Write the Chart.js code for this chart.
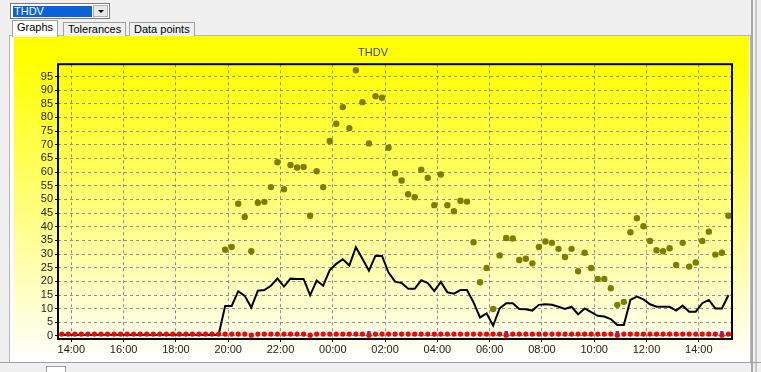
<!DOCTYPE html>
<html>
<head>
<meta charset="utf-8">
<script src="https://cdn.jsdelivr.net/npm/chart.js@4/dist/chart.umd.min.js"></script>
<style>
    body {
        margin: 0;
        width: 761px;
        height: 372px;
        overflow: hidden;
        background: #f0f0f0;
        font-family: "Liberation Sans", Arial, sans-serif;
        font-size: 11px;
        position: relative;
    }
    .combo {
        position: absolute;
        left: 10px;
        top: 3px;
        width: 98px;
        height: 14px;
        border: 1px solid #7a7a7a;
        background: #fff;
    }
    .combo .sel {
        position: absolute;
        left: 2px;
        top: 2px;
        width: 78px;
        height: 11px;
        background: #0a64d8;
        color: #fff;
        line-height: 11px;
        padding-left: 1px;
    }
    .combo .arrow {
        position: absolute;
        right: 1px;
        top: 1px;
        width: 15px;
        height: 12px;
        background: #e8e8e8;
        border: 1px solid #b0b0b0;
        box-sizing: border-box;
    }
    .combo .arrow:after {
        content: "";
        position: absolute;
        left: 4px;
        top: 4px;
        border-left: 3px solid transparent;
        border-right: 3px solid transparent;
        border-top: 3px solid #000;
    }
    .tab {
        position: absolute;
        top: 22px;
        height: 13px;
        padding: 0 4px;
        border: 1px solid #a0a0a0;
        border-bottom: none;
        background: #f0f0f0;
        line-height: 13px;
        color: #000;
    }
    .tab.ativa {
        top: 20px;
        height: 16px;
        background: #fff;
        z-index: 2;
    }
    .frame {
        position: absolute;
        left: 9px;
        top: 35px;
        width: 740px;
        height: 326px;
        border: 1px solid #b8b8b8;
        background: #fff;
    }
    .painel {
        position: absolute;
        left: 14px;
        top: 36px;
        width: 735px;
        height: 318px;
        background: linear-gradient(to bottom, #ffff00 0%, #ffff00 8%, #fffff8 100%);
    }
    .lateral {
        position: absolute;
        left: 751px;
        top: 0;
        width: 6px;
        height: 372px;
        border-left: 2px solid #a8a8a8;
        border-right: 2px solid #c8c8c8;
        box-sizing: border-box;
    }
    .rodape {
        position: absolute;
        left: 0;
        top: 362px;
        width: 761px;
        height: 10px;
        border-top: 1px solid #a0a0a0;
    }
    .rodape .caixa {
        position: absolute;
        left: 46px;
        top: 3px;
        width: 18px;
        height: 7px;
        border: 1px solid #a0a0a0;
        background: #fff;
    }
    canvas {
        position: absolute;
        left: 14px;
        top: 36px;
    }
</style>
</head>
<body>
<div class="frame"></div>
<div class="combo"><div class="sel">THDV</div><div class="arrow"></div></div>
<div class="tab ativa" style="left: 12px;">Graphs</div>
<div class="tab" style="left: 63px;">Tolerances</div>
<div class="tab" style="left: 129px;">Data points</div>
<div class="painel"></div>
<canvas id="thdvChart" width="735" height="318"></canvas>
<div class="lateral"></div>
<div class="rodape"><div class="caixa"></div></div>

<script>
// Amostras a cada 15 minutos, primeira amostra as 13:38 (horas contadas desde 00:00 do primeiro dia)
const inicioHoras = 13 + 38 / 60;
const passoHoras = 0.25;

// Eixo X: posicoes e rotulos das marcas
const xTickHoras = [14, 16, 18, 20, 22, 24, 26, 28, 30, 32, 34, 36, 38];
const xTickRotulos = ['14:00', '16:00', '18:00', '20:00', '22:00', '00:00', '02:00', '04:00', '06:00', '08:00', '10:00', '12:00', '14:00'];

// Eixo Y: marcas
const yTicks = [0, 5, 10, 15, 20, 25, 30, 35, 40, 45, 50, 55, 60, 65, 70, 75, 80, 85, 90, 95];

// THDV maximo (pontos oliva), comeca na amostra 25 (19:53)
const maxInicio = 25;
const thdvMax = [
    31.6, 32.6, 48.4, 43.6, 31.0, 48.8, 49.1, 54.5, 63.6, 53.7,
    62.6, 61.7, 61.9, 44.0, 60.3, 54.5, 71.4, 77.7, 83.8, 76.1,
    97.3, 85.6, 70.5, 87.8, 87.2, 68.9, 59.6, 56.9, 51.9, 50.8,
    60.9, 57.9, 47.9, 59.1, 47.9, 45.7, 49.5, 49.2, 34.3, 19.7,
    24.9, 9.9, 29.5, 35.9, 35.7, 27.8, 28.3, 26.6, 32.6, 34.6,
    34.1, 31.9, 28.9, 31.9, 23.7, 30.5, 24.9, 20.9, 20.9, 17.5,
    11.4, 12.5, 38.0, 43.1, 40.2, 34.8, 31.4, 31.0, 32.1, 26.0,
    34.1, 25.4, 26.9, 34.8, 38.2, 29.8, 30.5, 44.0
];

// THDV medio (linha preta), desde a amostra 0
const thdvMedio = [
    0.5, 0.5, 0.5, 0.5, 0.5, 0.5, 0.5, 0.5, 0.5, 0.5,
    0.5, 0.5, 0.5, 0.5, 0.5, 0.5, 0.5, 0.5, 0.5, 0.5,
    0.5, 0.5, 0.5, 0.5, 0.5,
    11.0, 11.0, 16.4, 14.7, 10.4, 16.6, 16.8, 18.4, 21.0, 18.1,
    21.0, 20.9, 20.9, 14.9, 20.3, 18.4, 24.1, 26.4, 28.1, 25.8,
    32.5, 28.3, 23.9, 29.4, 29.3, 23.2, 19.9, 19.4, 17.3, 17.3,
    20.4, 19.4, 16.4, 19.8, 16.0, 15.5, 16.8, 16.8, 12.3, 6.8,
    8.3, 3.8, 10.1, 12.0, 12.0, 9.9, 9.8, 9.3, 11.4, 11.6,
    11.4, 10.7, 9.9, 10.7, 7.9, 10.1, 8.7, 7.4, 7.1, 6.2,
    4.0, 4.0, 13.2, 14.4, 13.4, 11.6, 10.7, 10.7, 10.7, 9.3,
    11.1, 8.9, 8.9, 12.0, 13.2, 10.1, 10.1, 14.9
];

// THDV minimo (pontos vermelhos), desde a amostra 0
const thdvMin = [
    0.7, 0.7, 0.7, 0.7, 0.7, 0.7, 0.7, 0.7, 0.7, 0.7,
    0.7, 0.7, 0.7, 0.7, 0.7, 0.7, 0.7, 0.7, 0.7, 0.7,
    0.7, 0.7, 0.7, 0.7, 0.7,
    0.7, 0.7, 0.7, 0.7, 0.3, 0.7, 0.7, 0.7, 0.7, 0.7,
    0.7, 0.7, 0.7, 0.3, 0.7, 0.7, 0.7, 0.7, 0.7, 0.7,
    0.7, 0.7, 0.3, 0.7, 0.7, 0.7, 0.7, 0.7, 0.7, 0.7,
    0.7, 0.7, 0.7, 0.7, 0.7, 0.7, 0.7, 0.7, 0.7, 0.7,
    0.7, 0.7, 0.7, 0.3, 0.7, 0.7, 0.7, 0.7, 0.7, 0.7,
    0.7, 0.7, 0.7, 0.7, 0.7, 0.7, 0.7, 0.7, 0.7, 0.7,
    0.3, 0.7, 0.7, 0.7, 0.7, 0.7, 0.7, 0.7, 0.7, 0.7,
    0.7, 0.7, 0.7, 0.7, 0.7, 0.7, 0.3, 0.7
];

// Eventos (pontos azuis): amostra e valor
const eventosAmostra = [47, 68, 85, 101];
const eventosValor = [1.2, 1.2, 1.2, 1.2];

// Converte numero da amostra em horas
function horaDaAmostra(i) {
    return inicioHoras + i * passoHoras;
}

function montaPontos(valores, deslocamento) {
    return valores.map((v, i) => ({ x: horaDaAmostra(deslocamento + i), y: v }));
}

// Moldura preta da area do grafico
const moldura = {
    id: 'moldura',
    afterDraw(chart) {
        const a = chart.chartArea;
        const ctx = chart.ctx;
        ctx.save();
        ctx.strokeStyle = '#000';
        ctx.lineWidth = 2;
        ctx.strokeRect(a.left, a.top, a.right - a.left, a.bottom - a.top);
        ctx.restore();
    }
};

const ctx = document.getElementById('thdvChart').getContext('2d');
new Chart(ctx, {
    type: 'scatter',
    data: {
        datasets: [
            {
                label: 'Min',
                data: montaPontos(thdvMin, 0),
                backgroundColor: '#ff0000',
                borderWidth: 0,
                pointRadius: 2.6,
                showLine: false
            },
            {
                label: 'Eventos',
                data: eventosAmostra.map((a, i) => ({ x: horaDaAmostra(a), y: eventosValor[i] })),
                backgroundColor: '#3040ff',
                borderWidth: 0,
                pointStyle: 'rect',
                pointRadius: 2.5,
                showLine: false
            },
            {
                label: 'Medio',
                data: montaPontos(thdvMedio, 0),
                borderColor: '#000',
                borderWidth: 2,
                pointRadius: 0,
                showLine: true,
                tension: 0
            },
            {
                label: 'Max',
                data: montaPontos(thdvMax, maxInicio),
                backgroundColor: '#7d7d00',
                borderColor: '#7d7d00',
                borderWidth: 0,
                pointRadius: 3.2,
                showLine: false
            }
        ]
    },
    options: {
        responsive: false,
        animation: false,
        layout: {
            padding: { left: 0, right: 17, top: 0, bottom: 0 }
        },
        plugins: {
            legend: { display: false },
            tooltip: { enabled: false },
            title: {
                display: true,
                text: 'THDV',
                color: '#404080',
                font: { family: 'Liberation Sans', size: 11, weight: 'normal' },
                padding: { top: 10, bottom: 5 }
            }
        },
        scales: {
            x: {
                type: 'linear',
                min: 13.49,
                max: 39.27,
                afterBuildTicks: function (scale) {
                    scale.ticks = xTickHoras.map(v => ({ value: v }));
                },
                afterFit: function (scale) {
                    scale.height = 15;
                },
                ticks: {
                    color: '#222',
                    font: { family: 'Liberation Sans', size: 11 },
                    padding: 1,
                    maxRotation: 0,
                    autoSkip: false,
                    callback: function (value) {
                        const i = xTickHoras.indexOf(value);
                        return i >= 0 ? xTickRotulos[i] : '';
                    }
                },
                grid: {
                    color: '#8e8e96',
                    lineWidth: 1,
                    drawTicks: true,
                    tickLength: 3,
                    tickColor: '#000'
                },
                border: { display: false, dash: [3, 3] }
            },
            y: {
                type: 'linear',
                min: -1.1,
                max: 99.5,
                afterBuildTicks: function (scale) {
                    scale.ticks = yTicks.map(v => ({ value: v }));
                },
                afterFit: function (scale) {
                    scale.width = 44;
                },
                ticks: {
                    color: '#222',
                    font: { family: 'Liberation Sans', size: 11 },
                    padding: 2,
                    autoSkip: false
                },
                grid: {
                    color: '#8e8e96',
                    lineWidth: 1,
                    drawTicks: true,
                    tickLength: 3,
                    tickColor: '#000'
                },
                border: { display: false, dash: [3, 3] }
            }
        }
    },
    plugins: [moldura]
});
</script>
</body>
</html>
